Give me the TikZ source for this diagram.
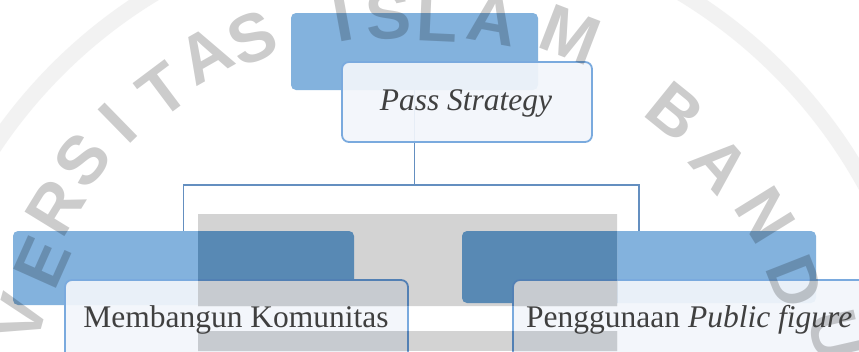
\documentclass[tikz,border=0pt]{standalone}
\usepackage{fontspec}
\setmainfont{Liberation Serif}
\newfontfamily\wmfont{Liberation Sans}
\definecolor{blueF}{RGB}{131,178,221}
\definecolor{blueD}{RGB}{88,137,180}
\definecolor{boxF}{RGB}{242,246,251}
\definecolor{boxD}{RGB}{199,203,208}
\definecolor{edgeB}{RGB}{122,170,222}
\definecolor{edgeD}{RGB}{82,128,180}
\definecolor{lineC}{RGB}{100,143,192}
\definecolor{textC}{RGB}{64,64,64}
\definecolor{rectGray}{RGB}{211,211,211}
\pgfdeclarelayer{bg}
\pgfsetlayers{bg,main}
\begin{document}
\begin{tikzpicture}[x=1pt,y=-1pt,
  bluebox/.style={fill=blueF,draw=none,rounded corners=5pt,inner sep=0pt,outer sep=0pt},
  whitebox/.style={fill=boxF,fill opacity=0.92,draw=edgeB,line width=1.8pt,rounded corners=7pt,inner sep=0pt,outer sep=0pt},
  conn/.style={draw=lineC,line width=1.6pt},
  lbl/.style={text=textC,inner sep=0pt,font=\fontsize{31.5}{36}\selectfont},
  wm/.style={text=black,text opacity=0.2,inner sep=0pt,font=\wmfont\bfseries\fontsize{68}{68}\selectfont}]
\useasboundingbox (0,0) rectangle (859,351);
\clip (0,0) rectangle (859,351);
% boxes
\node[bluebox,minimum width=247pt,minimum height=77pt] (b0) at (414.5,51.5) {};
\node[bluebox,minimum width=341pt,minimum height=74pt] (b1) at (183.5,268) {};
\node[bluebox,minimum width=354pt,minimum height=72pt] (b2) at (639,267) {};
\node[whitebox,minimum width=250pt,minimum height=80pt] (w0) at (467,102) {};
\node[whitebox,minimum width=343pt,minimum height=120pt] (w1) at (236.5,340) {};
\node[whitebox,minimum width=420pt,minimum height=120pt] (w2) at (723,340) {};
\coordinate (bus) at (0,185);
\begin{pgfonlayer}{bg}
  \fill[white] (0,0) rectangle (859,351);
  \draw[black!5,line width=16pt] (418,430) circle[radius=510];
  \draw[conn] (b0.center) -- (b0.center |- bus);
  \draw[conn] (b1.north) -- (b1.north |- bus) -- (b2.north |- bus) -- (b2.north);
\end{pgfonlayer}
% watermark logo block (darkens what lies beneath it)
\begin{scope}
  \clip (198,214) rectangle (617,306) (198,331) rectangle (617,351);
  \fill[rectGray] (0,0) rectangle (859,351);
  \fill[blueD,rounded corners=5pt] (b1.south west) rectangle (b1.north east);
  \fill[blueD,rounded corners=5pt] (b2.south west) rectangle (b2.north east);
  \filldraw[fill=boxD,draw=edgeD,line width=1.8pt,rounded corners=7pt] (w1.south west) rectangle (w1.north east);
  \filldraw[fill=boxD,draw=edgeD,line width=1.8pt,rounded corners=7pt] (w2.south west) rectangle (w2.north east);
\end{scope}
% watermark letters along the arc
\foreach \ch/\px/\py in {V/20/318,E/42/262,R/55/207,S/82/160,I/118/123,T/163/90,A/205/55,S/252/38,I/343/18,S/388/16,L/437/18,A/493/20,M/570/35,B/675/112,A/720/165,N/765/215,D/795/282,U/835/335}{%
  \pgfmathsetmacro\ang{atan2(430-\py,\px-418)-90}%
  \node[wm,rotate=\ang] (wm\px) at (\px,\py) {\ch};%
}
% labels
\node[lbl,anchor=base] (t0) at (466,110) {\textit{Pass Strategy}};
\node[lbl,anchor=base] (t1) at (236,327) {Membangun Komunitas};
\node[lbl,anchor=base west] (t2) at (526,327) {Penggunaan \textit{Public figure}};
\end{tikzpicture}
\end{document}
